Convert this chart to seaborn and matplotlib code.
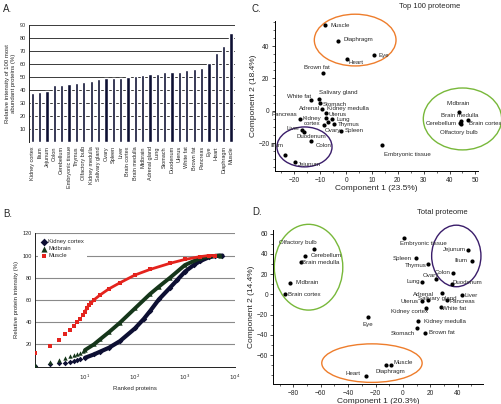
import numpy as np
import pandas as pd
import seaborn as sns
import matplotlib.pyplot as plt
from matplotlib.patches import Ellipse
from matplotlib.ticker import MultipleLocator, FixedLocator, NullFormatter

sns.set_style('white')
plt.rcParams['font.family'] = ['Liberation Sans', 'DejaVu Sans']

# A. relative intensity of 100 most abundant proteins
tissues_a = ['Kidney cortex', 'Ilium', 'Jejunum', 'Colon', 'Cerebellum', 'Embryonic tissue',
             'Thymus', 'Olfactory bulb', 'Kidney medulla', 'Salivary gland', 'Ovary', 'Spleen',
             'Liver', 'Brain cortex', 'Brain medulla', 'Midbrain', 'Adrenal gland', 'Lung',
             'Stomach', 'Duodenum', 'Uterus', 'White fat', 'Brown fat', 'Pancreas', 'Eye',
             'Heart', 'Diaphragm', 'Muscle']
top100_pct = [38, 38.5, 39.5, 44, 44, 45, 45.5, 46, 47, 48.5, 49, 49, 49.5, 50, 51, 51.5,
              52, 52.5, 53.5, 54, 54, 55.5, 56.5, 57, 61, 68.5, 74, 83.5]

# B. cumulative protein intensity vs rank
kc_rank = [1, 2, 3, 4, 5, 6, 7, 8, 10, 15, 20, 30, 50, 100, 150, 200, 300, 500, 700,
           1000, 1500, 2000, 3000, 4000, 5600]
kc_int = [1, 2.4, 3, 3.6, 4.5, 5.2, 6, 6.7, 8, 11, 13.5, 17, 23, 34.5, 43, 50, 60.5, 71,
          78, 85.5, 91.5, 95, 98.4, 99.5, 100]
mb_rank = [1, 2, 3, 4, 5, 6, 7, 8, 9, 10, 15, 20, 30, 50, 100, 200, 300, 500, 1000, 2000,
           3000, 5000]
mb_int = [1.2, 4, 5.7, 8, 9.3, 10.5, 11.4, 12.6, 13.8, 15, 20, 24.6, 31, 39.6, 52.5, 65.4,
          72, 80, 91.5, 97.5, 99.3, 100]
mu_rank = [1, 2, 3, 4, 5, 6, 7, 8, 9, 10, 11, 12, 13, 15, 20, 30, 50, 100, 200, 500, 1000,
           2000, 3000, 4000]
mu_int = [12, 19, 24, 29, 33, 37, 40, 43, 46.5, 49.5, 53, 55.5, 57, 60, 64.5, 70, 75.5,
          82.5, 87.5, 93, 96.5, 99, 100, 100]

# C. PCA top 100 proteome
tissues_c = ['Muscle', 'Diaphragm', 'Heart', 'Eye', 'Brown fat', 'White fat', 'Salivary gland',
             'Stomach', 'Adrenal', 'Kidney medulla', 'Uterus', 'Lung', 'Pancreas',
             'Kidney\ncortex', 'Ovary', 'Thymus', 'Spleen', 'Liver', 'Duodenum', 'Colon', 'Ilium',
             'Jejunum', 'Embryonic tissue', 'Midbrain', 'Brain medulla', 'Cerebellum',
             'Brain cortex', 'Olfactory bulb']
pc1_c = [-8, -3, 0.2, 10.8, -9, -13.7, -10.5, -10.1, -9.5, -7.9, -7.7, -5.5, -17.8,
         -8.7, -7.1, -4.7, -2.0, -17.0, -16.1, -13.5, -23.6, -19.7, 14.0, 43.5, 44.3, 44.0,
         47.0, 44.6]
pc2_c = [53, 43.3, 32.2, 34.2, 23.5, 6.8, 7.0, 5.0, 1.2, -1.2, -4.7, -5.3, -4.9,
         -9.1, -6.8, -8.4, -12.4, -11.9, -13.4, -18.8, -27.6, -31.7, -21.2, -0.8, -6.4, -7.8,
         -5.9, -8.4]

# D. PCA total proteome
tissues_d = ['Olfactory bulb', 'Cerebellum', 'Brain medulla', 'Midbrain', 'Brain cortex', 'Eye',
             'Heart', 'Diaphragm', 'Muscle', 'Embryonic tissue', 'Spleen', 'Thymus', 'Jejunum',
             'Ilium', 'Colon', 'Ovary', 'Lung', 'Duodenum', 'Salivary gland', 'Liver', 'Adrenal',
             'Uterus', 'Pancreas', 'White fat', 'Kidney cortex', 'Kidney medulla', 'Stomach',
             'Brown fat']
pc1_d = [-65.1, -71.4, -74.4, -82.4, -86.1, -25.5, -27.2, -12.1, -8.9, 0.9, 9.4, 18.5, 47.8,
         50.2, 36.8, 24.5, 13.6, 35.5, 28.9, 42.9, 18.5, 14.3, 31.9, 27.7, 16.7, 11.1, 10.6, 16]
pc2_d = [45.2, 38, 31.5, 11.4, 0, -22.6, -80.3, -69.5, -69.5, 55.7, 35.4, 29.8, 44.2, 33,
         21.2, 14.7, 12.4, 10.1, 1, -0.7, -5.6, -6.6, -5.6, -12.2, -13.8, -26.3, -32.8, -37.7]

# label placement (offset in points, alignment)
off_c = {'Muscle': (4, 0, 'left'), 'Diaphragm': (4, 1, 'left'), 'Heart': (1, -3, 'left'),
         'Eye': (3, 0, 'left'), 'Brown fat': (-4, 4, 'center'), 'White fat': (0, 2, 'right'),
         'Salivary gland': (0, 5, 'left'), 'Stomach': (2, -1, 'left'),
         'Adrenal': (-1, 0, 'right'), 'Kidney medulla': (1, 3, 'left'),
         'Uterus': (2, 2.5, 'left'), 'Lung': (3, 0, 'left'), 'Pancreas': (-2, 3, 'right'),
         'Kidney\ncortex': (-2, 3, 'right'), 'Ovary': (-2, -6, 'left'), 'Thymus': (3, 0, 'left'),
         'Spleen': (3, 0, 'left'), 'Liver': (-2, 1, 'right'), 'Duodenum': (-6, -3, 'left'),
         'Colon': (3, -3, 'left'), 'Ilium': (-1, 7, 'right'), 'Jejunum': (2, -2, 'left'),
         'Embryonic tissue': (1, -7, 'left'), 'Midbrain': (0, 6, 'center'),
         'Brain medulla': (-1, 4, 'center'), 'Cerebellum': (-2, 0, 'right'),
         'Brain cortex': (1, -2, 'left'), 'Olfactory bulb': (-2, -6, 'center')}
off_d = {'Olfactory bulb': (2, 4, 'right'), 'Cerebellum': (4, 0, 'left'),
         'Brain medulla': (1, 0, 'left'), 'Midbrain': (4, 0, 'left'),
         'Brain cortex': (2, 0, 'left'), 'Eye': (0, -5, 'center'), 'Heart': (-4, 2, 'right'),
         'Diaphragm': (3, -5, 'center'), 'Muscle': (2, 2, 'left'),
         'Embryonic tissue': (-3, -4, 'left'), 'Spleen': (-3, 0, 'right'),
         'Thymus': (-1, -1, 'right'), 'Jejunum': (-2, 0, 'right'), 'Ilium': (-3, 0, 'right'),
         'Colon': (-2, 0, 'right'), 'Ovary': (2, 3, 'right'), 'Lung': (-1, 0, 'right'),
         'Duodenum': (1, 1, 'left'), 'Salivary gland': (-4, -4, 'center'),
         'Liver': (2, 0, 'left'), 'Adrenal': (4, 4, 'right'), 'Uterus': (-3, 0, 'right'),
         'Pancreas': (2, -1, 'left'), 'White fat': (1, -1, 'left'),
         'Kidney cortex': (2, -2.5, 'right'), 'Kidney medulla': (4, 0, 'left'),
         'Stomach': (-2, -4, 'right'), 'Brown fat': (3, 0, 'left')}

navy = '#0d0f33'
green = '#15361a'
red = '#e4231d'
W, H = 502, 404

fig = plt.figure(figsize=(W / 100, H / 100), dpi=100)


def box(x0, y0, x1, y1):
    return fig.add_axes([x0 / W, 1 - y1 / H, (x1 - x0) / W, (y1 - y0) / H])


# ---- A ----
axA = box(29, 25, 235, 142)
sns.barplot(x=tissues_a, y=top100_pct, color=navy, saturation=1, width=0.45, ax=axA)
axA.set_xlim(-0.45, 27.55)
axA.set_ylim(0, 90)
axA.set_yticks(range(10, 91, 10))
axA.yaxis.grid(True, color='#3a3a3a', lw=0.7)
axA.set_axisbelow(True)
for s in ['top', 'right', 'bottom']:
    axA.spines[s].set_visible(False)
axA.spines['left'].set_color('#222')
axA.spines['left'].set_linewidth(0.7)
axA.tick_params(axis='both', length=0, pad=2, labelsize=4)
axA.tick_params(axis='x', rotation=90, pad=3)
axA.set_ylabel('Relative intensity of 100 most\nabundant proteins (%)', fontsize=4.3, labelpad=3)

# ---- B ----
axB = box(35, 233.3, 235, 366.7)
axB.set_xscale('log')
axB.yaxis.grid(True, color='#8a8a8a', lw=0.8)
axB.set_axisbelow(True)
sns.lineplot(x=kc_rank[8:], y=kc_int[8:], color=navy, lw=3.0, ax=axB, zorder=2)
sns.lineplot(x=mb_rank[9:], y=mb_int[9:], color=green, lw=2.8, ax=axB, zorder=3)
sns.lineplot(x=mu_rank[9:], y=mu_int[9:], color=red, lw=2.0, ax=axB, zorder=4)
sns.scatterplot(x=kc_rank, y=kc_int, marker='D', color=navy, s=8, linewidth=0, ax=axB,
                label='Kidney cortex', zorder=2)
sns.scatterplot(x=mb_rank, y=mb_int, marker='^', color=green, s=10, linewidth=0, ax=axB,
                label='Midbrain', zorder=3)
sns.scatterplot(x=mu_rank, y=mu_int, marker='s', color=red, s=6, linewidth=0, ax=axB,
                label='Muscle', zorder=4)
axB.set_xlim(1, 1e4)
axB.set_ylim(0, 120)
axB.set_yticks(range(20, 121, 20))
axB.xaxis.set_major_locator(FixedLocator([1, 10, 100, 1000, 10000]))
axB.set_xticklabels(['', r'$10^1$', r'$10^2$', r'$10^3$', r'$10^4$'])
axB.xaxis.set_minor_locator(FixedLocator([]))
axB.xaxis.set_minor_formatter(NullFormatter())
for s in ['top', 'right']:
    axB.spines[s].set_visible(False)
for s in ['left', 'bottom']:
    axB.spines[s].set_color('#222')
    axB.spines[s].set_linewidth(0.7)
axB.tick_params(axis='y', length=0, pad=2, labelsize=4)
axB.tick_params(axis='x', length=2, width=0.6, pad=2, labelsize=4)
axB.set_xlabel('Ranked proteins', fontsize=4.3, labelpad=3)
axB.set_ylabel('Relative protein intensity (%)', fontsize=4.3, labelpad=3)
leg = axB.legend(loc='upper left', bbox_to_anchor=(0.0, 1.0), fontsize=4.2, frameon=True,
                 facecolor='white', edgecolor='none', framealpha=1, handletextpad=0.3,
                 borderpad=0.5, labelspacing=0.35, markerscale=1.4, handlelength=1.0)


def pca_panel(ax, names, xs, ys, offs):
    sns.scatterplot(x=xs, y=ys, color='black', s=9, linewidth=0, ax=ax, zorder=3)
    for n, x, y in zip(names, xs, ys):
        dx, dy, ha = offs[n]
        ax.annotate(n, (x, y), xytext=(dx, dy), textcoords='offset points', ha=ha,
                    va='center', fontsize=4.4, linespacing=0.95, zorder=4)
    for s in ['top', 'right']:
        ax.spines[s].set_visible(False)
    for s in ['left', 'bottom']:
        ax.spines[s].set_color('black')
        ax.spines[s].set_linewidth(0.7)
    ax.tick_params(which='major', direction='out', length=2.5, width=0.6, pad=1.5,
                   labelsize=4.8, bottom=True, left=True)
    ax.tick_params(which='minor', direction='out', length=1.5, width=0.5, bottom=True,
                   left=True)


# ---- C ----
axC = box(275, 21, 478, 171)
pca_panel(axC, tissues_c, pc1_c, pc2_c, off_c)
axC.set_xlim(-27.5, 51)
axC.set_ylim(-37.3, 55.5)
axC.xaxis.set_major_locator(FixedLocator(range(-20, 51, 10)))
axC.xaxis.set_minor_locator(MultipleLocator(5))
axC.yaxis.set_major_locator(FixedLocator([-20, 0, 20, 40]))
axC.yaxis.set_minor_locator(MultipleLocator(5))
axC.set_xlabel('Component 1 (23.5%)', fontsize=6, labelpad=1)
axC.set_ylabel('Component 2 (18.4%)', fontsize=6, labelpad=1)
for (cx, cy, w, h, col) in [(3.5, 43.7, 31.6, 32, '#ee7d2c'), (45, -5.1, 30.3, 38.3, '#78b83a'),
                            (-16.1, -22.4, 21.3, 24.7, '#3a1d6a')]:
    axC.add_patch(Ellipse((cx, cy), w, h, fill=False, ec=col, lw=1.0, clip_on=False))
fig.text(430 / W, 1 - 6 / H, 'Top 100 proteome', fontsize=5.5, ha='center', va='center')

# ---- D ----
axD = box(273.5, 230, 483, 384)
pca_panel(axD, tissues_d, pc1_d, pc2_d, off_d)
axD.set_xlim(-94.5, 58.5)
axD.set_ylim(-88.4, 63.5)
axD.xaxis.set_major_locator(FixedLocator(range(-80, 41, 20)))
axD.xaxis.set_minor_locator(MultipleLocator(10))
axD.yaxis.set_major_locator(FixedLocator(range(-60, 61, 20)))
axD.yaxis.set_minor_locator(MultipleLocator(10))
axD.set_xlabel('Component 1 (20.3%)', fontsize=6, labelpad=1)
axD.set_ylabel('Component 2 (14.4%)', fontsize=6, labelpad=1)
for (cx, cy, w, h, col) in [(-68.9, 26.8, 50, 84.6, '#78b83a'), (39, 37.9, 36, 60.7, '#3a1d6a'),
                            (-22.6, -67.8, 73.3, 38, '#ee7d2c')]:
    axD.add_patch(Ellipse((cx, cy), w, h, fill=False, ec=col, lw=1.0, clip_on=False))
fig.text(442 / W, 1 - 213 / H, 'Total proteome', fontsize=5.5, ha='center', va='center')

for letter, (px, py) in {'A.': (3, 9), 'B.': (3, 214), 'C.': (252, 9), 'D.': (252, 212)}.items():
    fig.text(px / W, 1 - py / H, letter, fontsize=7, ha='left', va='center')

fig.savefig('out.png', dpi=100)
